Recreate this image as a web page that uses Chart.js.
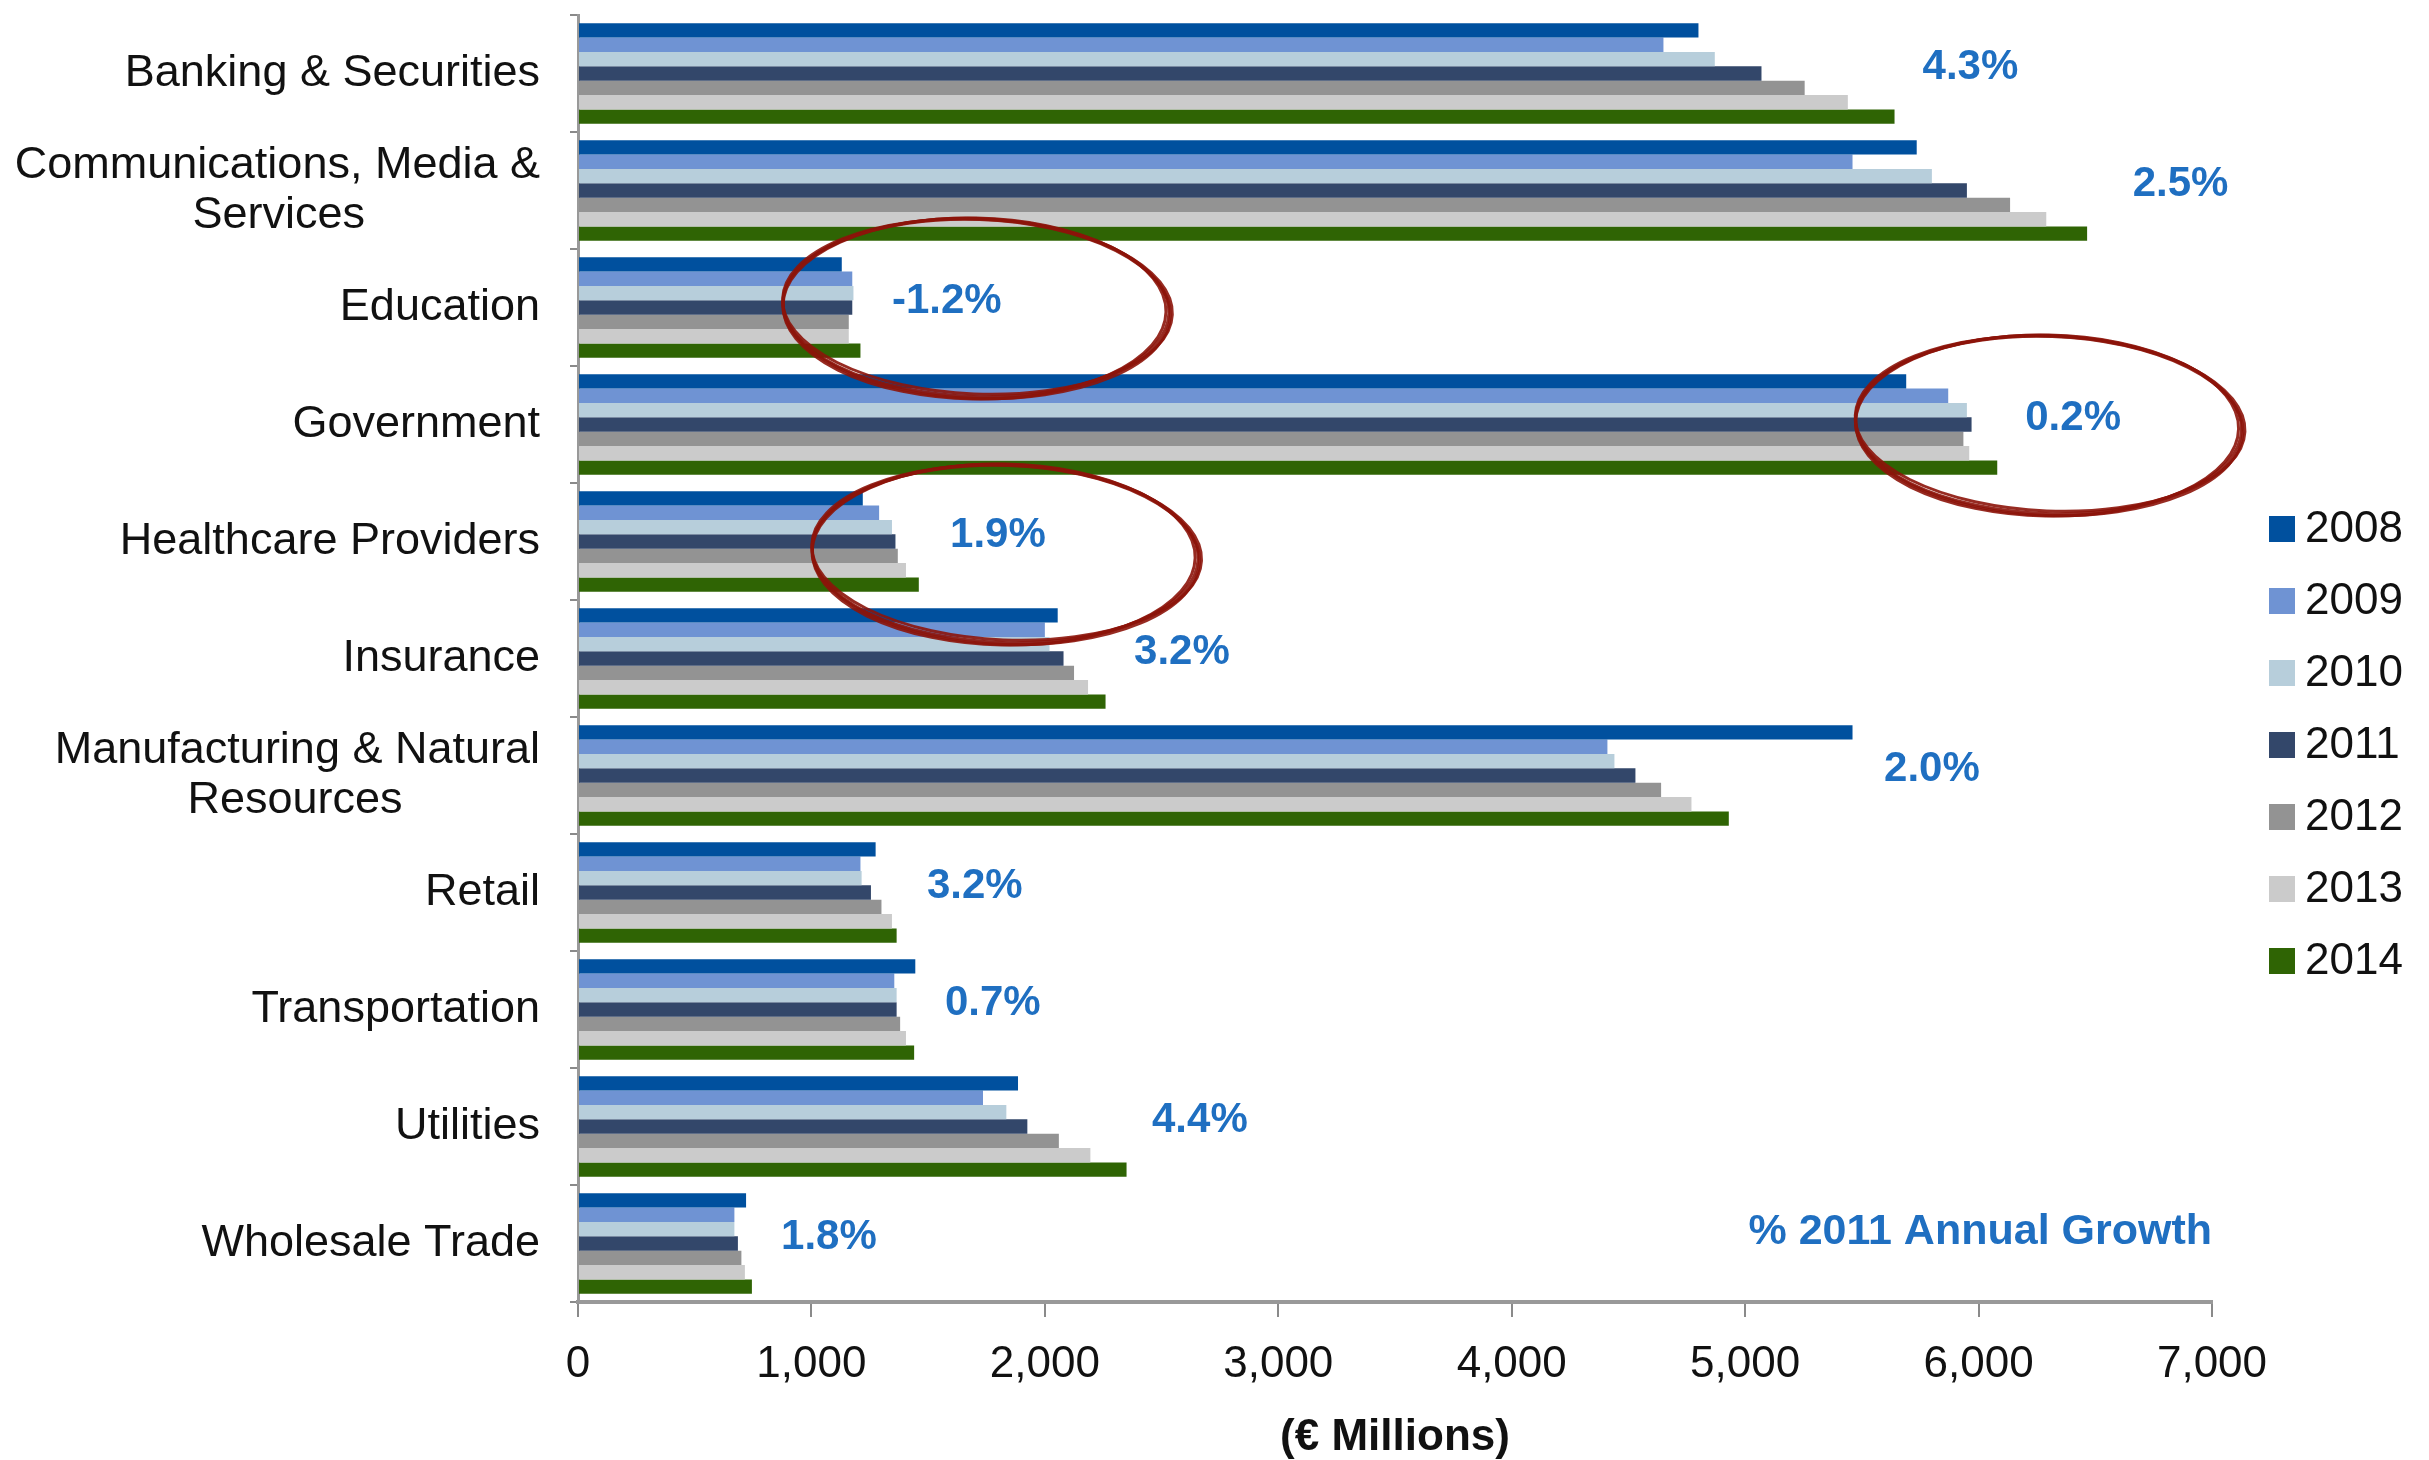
<!DOCTYPE html>
<html>
<head>
<meta charset="utf-8">
<script src="https://cdn.jsdelivr.net/npm/chart.js@4.4.1/dist/chart.umd.min.js"></script>
<style>
  html, body { margin: 0; padding: 0; background: #fff; }
  #wrap { width: 2429px; height: 1460px; }
</style>
</head>
<body>
<div id="wrap"><canvas id="spendChart" width="2429" height="1460"></canvas></div>
<script>
const NB = "\u00a0";
const pad = n => NB.repeat(n);

const industries = [
  "Banking & Securities",
  ["Communications, Media &", "Services" + pad(14)],
  "Education",
  "Government",
  "Healthcare Providers",
  "Insurance",
  ["Manufacturing & Natural", "Resources" + pad(11)],
  "Retail",
  "Transportation",
  "Utilities",
  "Wholesale Trade"
];

const years = ["2008", "2009", "2010", "2011", "2012", "2013", "2014"];

// € millions
const spend2008 = [4800, 5735, 1130, 5690, 1220, 2055, 5460, 1275, 1445, 1885, 720];
const spend2009 = [4650, 5460, 1175, 5870, 1290, 2000, 4410, 1210, 1355, 1735, 670];
const spend2010 = [4870, 5800, 1180, 5950, 1345, 2020, 4440, 1215, 1365, 1835, 670];
const spend2011 = [5070, 5950, 1175, 5970, 1360, 2080, 4530, 1255, 1365, 1925, 685];
const spend2012 = [5255, 6135, 1160, 5935, 1370, 2125, 4640, 1300, 1380, 2060, 700];
const spend2013 = [5440, 6290, 1160, 5960, 1405, 2185, 4770, 1345, 1405, 2195, 715];
const spend2014 = [5640, 6465, 1210, 6080, 1460, 2260, 4930, 1365, 1440, 2350, 745];

// % 2011 annual growth per industry, and where the label sits on the value axis
const growth2011 = ["4.3%", "2.5%", "-1.2%", "0.2%", "1.9%", "3.2%", "2.0%", "3.2%", "0.7%", "4.4%", "1.8%"];
const growthLabelAt = [5760, 6660, 1345, 6200, 1594, 2382, 5595, 1495, 1572, 2459, 870];

// industries circled in red (category index, centre value)
const circledIdx = [2, 3, 4];
const circledAt = [1705, 6300, 1830];

const xTicks = [0, 1000, 2000, 3000, 4000, 5000, 6000, 7000];

const colors = ["#00509e", "#6f93d3", "#b7cedb", "#33476a", "#939393", "#cbcbcb", "#2f6404"];
const series = [spend2008, spend2009, spend2010, spend2011, spend2012, spend2013, spend2014];

Chart.defaults.font.family = "'Liberation Sans', Arial, sans-serif";
Chart.defaults.color = "#111";

// growth labels, red circles and the legend
const annotations = {
  id: "annotations",
  afterDatasetsDraw(chart) {
    const ctx = chart.ctx;
    const x = chart.scales.x, y = chart.scales.y;
    const area = chart.chartArea;

    ctx.save();
    ctx.fillStyle = "#1f6fc1";
    ctx.font = "bold 42px 'Liberation Sans', Arial, sans-serif";
    ctx.textBaseline = "middle";
    ctx.textAlign = "left";
    growth2011.forEach((g, i) => {
      ctx.fillText(g, x.getPixelForValue(growthLabelAt[i]), y.getPixelForValue(i) - 6);
    });
    ctx.textAlign = "right";
    ctx.font = "bold 43px 'Liberation Sans', Arial, sans-serif";
    ctx.fillText("% 2011 Annual Growth", area.right, area.bottom - 70);

    // sketchy hand drawn ellipses
    const passes = [[0, 0, 0, 0, 0], [1.5, -1, 2, -1.5, 0.012], [-1.5, 1, -1.5, 1.5, -0.012], [0.5, 1.5, 1, 0.5, 0.006]];
    ctx.strokeStyle = "rgba(140, 20, 10, 0.9)";
    ctx.lineWidth = 3;
    circledIdx.forEach((ci, k) => {
      const cx = x.getPixelForValue(circledAt[k]);
      const cy = y.getPixelForValue(ci) + (ci === 4 ? 12 : 0);
      passes.forEach(p => {
        ctx.beginPath();
        ctx.ellipse(cx + p[0], cy + p[1], 193 + p[2], 89 + p[3], 0.03 + p[4], 0, Math.PI * 2);
        ctx.stroke();
      });
    });

    // legend
    ctx.font = "44px 'Liberation Sans', Arial, sans-serif";
    ctx.textAlign = "left";
    const lx = area.right + 57;
    const ly = 529;
    years.forEach((yr, i) => {
      const cy = ly + i * 72;
      ctx.fillStyle = colors[i];
      ctx.fillRect(lx, cy - 13, 26, 26);
      ctx.fillStyle = "#111";
      ctx.fillText(yr, lx + 36, cy + 1);
    });
    ctx.restore();
  }
};

new Chart(document.getElementById("spendChart"), {
  type: "bar",
  data: {
    labels: industries,
    datasets: years.map((yr, i) => ({
      label: yr,
      data: series[i],
      backgroundColor: colors[i],
      borderWidth: 0,
      barPercentage: 1,
      categoryPercentage: 0.86
    }))
  },
  options: {
    indexAxis: "y",
    responsive: false,
    animation: false,
    devicePixelRatio: 1,
    layout: { padding: { top: 15, right: 217, bottom: 0, left: 0 } },
    plugins: {
      legend: { display: false },
      tooltip: { enabled: false }
    },
    scales: {
      x: {
        min: 0,
        max: 7000,
        afterBuildTicks: s => { s.ticks = xTicks.map(v => ({ value: v })); },
        afterFit: s => { s.height = 158; },
        grid: { drawOnChartArea: false, tickLength: 15, color: "#8a8a8a", lineWidth: 2 },
        border: { color: "#999", width: 4 },
        ticks: { font: { size: 44, lineHeight: 1 }, padding: 26, color: "#111" },
        title: {
          display: true,
          text: "(€ Millions)",
          font: { size: 44, weight: "bold", lineHeight: 1 },
          padding: { top: 31, bottom: 0 },
          color: "#111"
        }
      },
      y: {
        afterFit: s => { s.width = 578; s.paddingTop = 0; s.paddingBottom = 0; },
        grid: { drawOnChartArea: false, tickLength: 8, color: "#8a8a8a", lineWidth: 2, offset: true },
        border: { color: "#999", width: 3 },
        ticks: { font: { size: 45, lineHeight: 1.1 }, padding: 30, color: "#111", autoSkip: false }
      }
    }
  },
  plugins: [annotations]
});
</script>
</body>
</html>
